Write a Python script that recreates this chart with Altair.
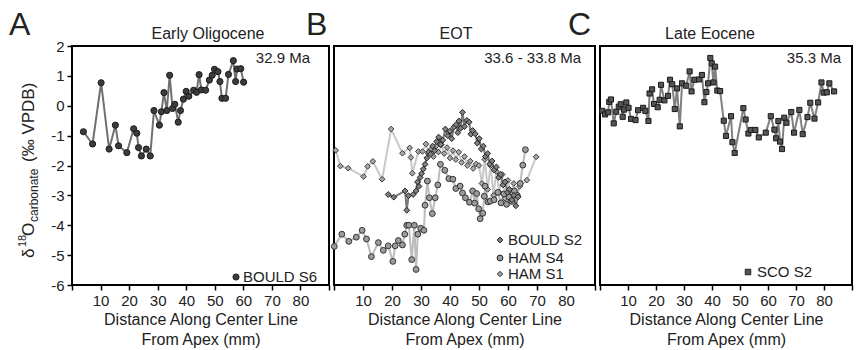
import altair as alt
import pandas as pd

FONT = "Liberation Sans"

# ---------------- Panel A : Early Oligocene, BOULD S6 ----------------
a_x = [4.0, 7.2, 10.2, 13.0, 15.2, 16.3, 19.2, 21.6, 22.7, 23.3, 24.3, 26.0, 27.4, 28.7,
       30.6, 31.3, 32.2, 33.2, 34.2, 35.2, 36.0, 37.2, 38.0, 39.0, 40.0, 40.9, 42.6, 43.6,
       44.5, 45.3, 46.8, 48.1, 49.1, 49.9, 51.1, 51.8, 52.5, 53.8, 54.8, 56.5, 57.3, 57.8,
       59.1, 60.1]
a_y = [-0.87, -1.28, 0.77, -1.45, -0.65, -1.34, -1.57, -0.77, -0.92, -1.40, -1.68, -1.45,
       -1.68, -0.16, -0.65, -0.20, 0.44, -0.16, 1.02, -0.09, 0.05, -0.55, -0.16, 0.22, 0.48,
       0.32, 0.52, 0.45, 1.04, 0.53, 0.52, 0.86, 1.02, 1.22, 1.14, 0.81, 0.25, 0.25, 1.05,
       1.51, 0.81, 1.23, 1.24, 0.79]

# ---------------- Panel B : EOT ----------------
# BOULD S2 (dark diamonds)
b1_x = [18.7, 20.6, 24.5, 25.1, 25.7, 27.3, 28.3, 28.8, 29.3, 29.7, 30.2, 30.8, 31.4, 32.0,
        32.6, 33.3, 34.0, 34.7, 35.4, 36.1, 36.8, 37.5, 38.4, 39.2, 40.0, 40.6, 41.3, 42.1,
        42.7, 43.1, 43.7, 44.3, 45.0, 45.8, 46.6, 47.2, 47.8, 48.7, 49.4, 50.1, 50.8, 51.5,
        52.2, 53.0, 53.7, 54.5, 55.2, 56.0, 56.8, 57.5, 58.3, 59.0, 59.8, 60.5, 61.3, 62.0,
        62.7, 63.5]
b1_y = [-2.97, -3.06, -2.85, -3.50, -3.01, -2.97, -2.85, -2.55, -2.70, -2.40, -2.27, -2.12,
        -1.96, -1.75, -1.55, -1.62, -1.35, -1.50, -1.20, -1.05, -1.30, -1.15, -0.78, -1.00,
        -0.85, -1.10, -0.72, -0.63, -0.90, -0.51, -0.75, -0.22, -0.70, -0.49, -0.55, -0.95,
        -0.83, -0.94, -1.25, -1.10, -1.45, -1.35, -1.70, -1.60, -1.95, -1.85, -2.15, -2.05,
        -2.40, -2.30, -2.65, -2.55, -2.90, -2.80, -3.15, -3.00, -3.35, -3.05]

# HAM S4 (circles)
b2_x = [0.1, 2.7, 5.1, 7.7, 9.7, 11.2, 12.9, 15.3, 17.0, 18.7, 20.3, 21.1, 22.2, 23.6, 24.4,
        25.1, 25.8, 26.8, 27.7, 28.3, 28.9, 29.9, 31.0, 31.4, 32.2, 32.9, 33.9, 34.9, 35.8,
        36.7, 38.2, 39.6, 41.0, 42.0, 43.5, 44.3, 45.3, 46.7, 47.8, 48.5, 49.2, 49.9, 50.4,
        51.3, 51.8, 52.1, 53.1, 53.9, 55.2, 56.5, 57.6, 58.6, 59.5, 60.4, 61.3, 62.2, 63.2,
        64.2, 65.1, 66.0]
b2_y = [-4.71, -4.30, -4.54, -4.40, -4.17, -4.46, -5.05, -4.58, -4.84, -4.69, -5.21, -4.69,
        -4.51, -4.66, -4.30, -4.00, -4.00, -5.15, -4.00, -5.48, -4.30, -4.10, -4.17, -3.33,
        -2.52, -3.08, -3.61, -3.08, -2.65, -1.96, -2.16, -2.44, -2.46, -2.77, -2.69, -2.92,
        -3.08, -3.23, -2.85, -3.26, -2.94, -3.45, -3.78, -3.60, -3.03, -2.69, -3.22, -3.19,
        -3.15, -2.90, -3.25, -2.95, -3.30, -3.05, -3.20, -2.85, -3.00, -2.60, -1.99, -1.47]

# HAM S1 (light diamonds)
b3_x = [0.6, 2.2, 4.9, 10.2, 11.6, 13.4, 16.6, 19.7, 23.6, 26.1, 26.5, 27.0, 29.1, 30.5,
        31.7, 32.5, 33.5, 34.3, 35.2, 36.0, 37.0, 38.0, 39.0, 40.0, 41.0, 42.0, 43.0, 44.0,
        45.0, 46.0, 47.0, 48.0, 49.0, 50.0, 51.0, 52.0, 53.0, 54.0, 55.0, 56.0, 57.0, 58.0,
        59.0, 60.0, 61.0, 62.0, 63.0, 64.0, 66.5, 69.7]
b3_y = [-1.49, -2.02, -2.09, -2.37, -2.03, -1.86, -2.46, -0.78, -1.59, -1.41, -1.73, -2.26,
        -1.53, -1.53, -1.28, -1.60, -1.45, -1.70, -1.35, -1.55, -1.30, -1.60, -1.40, -1.75,
        -1.50, -1.80, -1.55, -1.90, -1.70, -2.00, -1.85, -2.10, -1.95, -2.00, -2.60, -1.80,
        -2.80, -2.00, -3.00, -2.20, -2.90, -2.30, -3.10, -2.50, -3.20, -2.60, -3.00, -2.70,
        -2.49, -1.71]

# ---------------- Panel C : Late Eocene, SCO S2 ----------------
c_x = [0.8, 1.8, 2.9, 3.3, 3.9, 4.9, 5.8, 6.7, 7.4, 8.1, 8.6, 9.4, 10.2, 11.1, 12.7, 13.6,
       15.4, 16.2, 17.3, 17.7, 18.6, 19.3, 20.6, 21.3, 21.8, 23.0, 24.3, 25.0, 25.8, 26.7,
       27.5, 28.5, 29.3, 30.8, 32.0, 32.7, 33.7, 35.4, 36.4, 37.3, 38.0, 38.6, 39.4, 39.9,
       40.5, 41.1, 41.9, 42.9, 44.2, 45.0, 46.8, 47.3, 48.1, 51.2, 52.0, 53.0, 53.9, 55.5,
       56.7, 59.2, 61.0, 62.3, 62.9, 63.7, 64.3, 65.0, 65.8, 66.6, 68.3, 69.3, 71.2, 72.4,
       74.1, 75.1, 76.6, 77.9, 79.1, 79.9, 81.0, 81.9, 83.6]
c_y = [-0.17, -0.29, -0.22, 0.13, 0.21, -0.59, -0.20, -0.03, 0.05, -0.37, -0.13, 0.11,
       -0.07, -0.44, -0.48, -0.15, -0.07, -0.17, -0.51, 0.41, 0.55, 0.06, -0.05, 0.20, 0.70,
       0.18, 0.33, 0.87, 0.72, -0.11, 0.58, -0.69, 0.75, 0.67, 1.15, 0.48, 0.87, 0.88, 1.03,
       0.12, 0.46, 0.75, 1.60, 1.42, 0.78, 1.31, 0.51, 0.49, -0.50, -1.01, -0.35, -1.22,
       -1.58, -0.08, -0.46, -0.93, -0.81, -0.81, -1.06, -0.90, -0.35, -0.80, -1.09, -0.51,
       -1.20, -1.45, -0.40, -0.57, -0.21, -0.90, -0.14, -0.95, -0.38, 0.10, -0.43, 0.11,
       0.78, 0.44, 0.45, 0.75, 0.48]

X_TICKS = [0, 10, 20, 30, 40, 50, 60, 70, 80, 90]
Y_TICKS = [-6, -5, -4, -3, -2, -1, 0, 1, 2]
X_TITLE = ["Distance Along Center Line", "From Apex (mm)"]

H = 239


def xenc():
    return alt.X("x:Q", scale=alt.Scale(domain=[0, 90], nice=False, zero=False),
                 axis=alt.Axis(values=X_TICKS, title=X_TITLE,
                               labelExpr="datum.value == 0 || datum.value == 90 ? '' : datum.label",
                               labelFontSize=15, labelFont=FONT, labelColor="#222",
                               titleFontSize=16, titleFont=FONT, titleFontWeight="normal",
                               titleColor="#222", titlePadding=3, titleLineHeight=20,
                               tickSize=5, tickWidth=1.5, tickColor="black",
                               domain=False, grid=False, labelPadding=3))


def yenc(show):
    if show:
        ax = alt.Axis(values=Y_TICKS, title=None, labelExpr="'' + datum.value",
                      labelFontSize=15, labelFont=FONT, labelColor="#222",
                      tickSize=5, tickWidth=1.5, tickColor="black",
                      domain=False, grid=False, labelPadding=3)
    else:
        ax = None
    return alt.Y("y:Q", scale=alt.Scale(domain=[-6, 2], nice=False, zero=False), axis=ax)


def series(xs, ys, shape, fill, stroke, line_color, size, show_axis=False, line_width=2):
    df = pd.DataFrame({"x": xs, "y": ys})
    base = alt.Chart(df).encode(x=xenc(), y=yenc(show_axis))
    line = base.mark_line(color=line_color, strokeWidth=line_width)
    pts = base.mark_point(shape=shape, filled=True, fill=fill, stroke=stroke,
                          strokeWidth=1, size=size, opacity=1)
    return line, pts


def txt(s, x, y, size=15, align="left", baseline="alphabetic", angle=0):
    ch = alt.Chart(pd.DataFrame({"t": [s]})).mark_text(
        align=align, baseline=baseline, fontSize=size, font=FONT, angle=angle, color="#222"
    ).encode(text="t:N", x=alt.value(x), y=alt.value(y))
    return ch


def sym(shape, x, y, fill, size):
    return alt.Chart(pd.DataFrame({"k": [0]})).mark_point(
        shape=shape, filled=True, fill=fill, stroke="#222", strokeWidth=1, size=size, opacity=1
    ).encode(x=alt.value(x), y=alt.value(y))


anchor = alt.Chart(pd.DataFrame({"k": [0]})).mark_rule(strokeWidth=0, opacity=0).encode(
    x=alt.value(-71), x2=alt.value(-70), y=alt.value(-45), y2=alt.value(-44))

# Panel A
aL, aP = series(a_x, a_y, "circle", "#3c3c3c", "#1a1a1a", "#707070", 38, show_axis=True)
panel_a = alt.layer(
    aL, aP,
    anchor,
    txt("A", -63, -11, size=32),
    txt("Early Oligocene", 136, -7, size=16, align="center"),
    txt("32.9 Ma", 238, 17, size=15, align="right"),
    sym("circle", 164, 231, "#3c3c3c", 38),
    txt("BOULD S6", 171, 231, size=15, baseline="middle"),
    # y-axis title pieces
    txt("\u03b4", -43, 212, size=17, baseline="middle", angle=270),
    txt("18", -49, 201, size=11, baseline="middle", angle=270),
    txt("O", -43, 190, size=17, baseline="middle", angle=270),
    txt("carbonate", -38, 176, size=12, baseline="middle", angle=270),
    txt("(\u2030 VPDB)", -43, 116, size=17, baseline="middle", angle=270),
).properties(width=257, height=H)

# Panel B
b3L, b3P = series(b3_x, b3_y, "diamond", "#a8a8a8", "#3a3a3a", "#c8c8c8", 32)
b2L, b2P = series(b2_x, b2_y, "circle", "#9c9c9c", "#333333", "#bcbcbc", 34)
b1L, b1P = series(b1_x, b1_y, "diamond", "#808080", "#222222", "#7a7a7a", 34)
panel_b = alt.layer(
    b3L, b2L, b1L, b3P, b2P, b1P,
    txt("B", -28, -11, size=32),
    txt("EOT", 122, -7, size=16, align="center"),
    txt("33.6 - 33.8 Ma", 247, 17, size=15, align="right"),
    sym("diamond", 166, 194, "#808080", 34),
    txt("BOULD S2", 174, 194, size=15, baseline="middle"),
    sym("circle", 166, 212, "#9c9c9c", 34),
    txt("HAM S4", 174, 212, size=15, baseline="middle"),
    sym("diamond", 166, 228, "#a8a8a8", 28),
    txt("HAM S1", 174, 228, size=15, baseline="middle"),
).properties(width=261, height=H)

# Panel C
cL, cP = series(c_x, c_y, "square", "#555555", "#1a1a1a", "#808080", 26)
panel_c = alt.layer(
    cL, cP,
    txt("C", -32, -11, size=32),
    txt("Late Eocene", 110, -7, size=16, align="center"),
    txt("35.3 Ma", 241, 17, size=15, align="right"),
    sym("square", 148, 226, "#555555", 30),
    txt("SCO S2", 157, 226, size=15, baseline="middle"),
).properties(width=252, height=H)

chart = alt.hconcat(panel_a, panel_b, panel_c, spacing=5, bounds="flush", padding=0,
                    background="white").configure_view(stroke="black", strokeWidth=2)

chart.save("out.html", embed_options={"renderer": "svg", "actions": False})
